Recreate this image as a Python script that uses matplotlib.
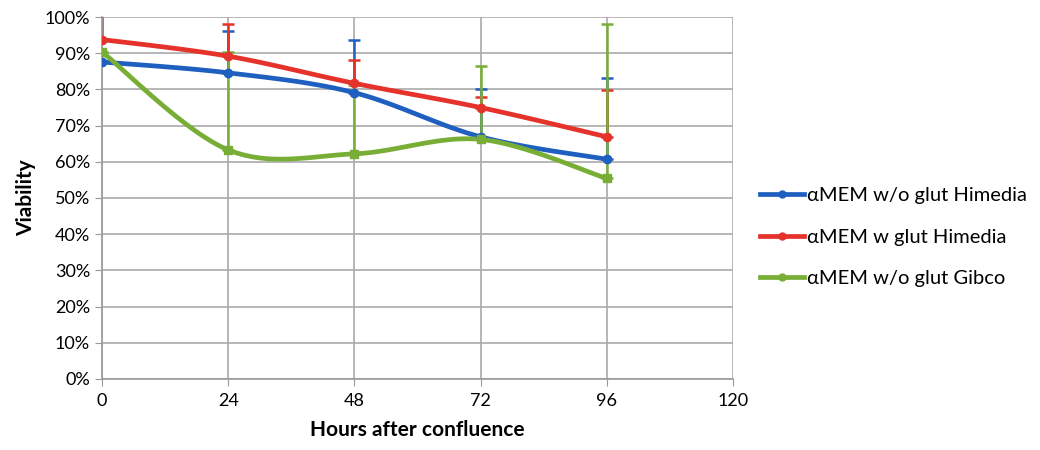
import numpy as np
import matplotlib
matplotlib.use("Agg")
import matplotlib.pyplot as plt
from matplotlib.ticker import PercentFormatter

plt.rcParams['font.family'] = ['Lato', 'DejaVu Sans']

hours = [0, 24, 48, 72, 96]
labels = ["\u03b1MEM w/o glut Himedia", "\u03b1MEM w glut Himedia", "\u03b1MEM w/o glut Gibco"]
blue_vals = [0.876, 0.846, 0.791, 0.669, 0.607]
red_vals = [0.938, 0.892, 0.817, 0.750, 0.669]
green_vals = [0.904, 0.633, 0.622, 0.662, 0.554]
blue_err = [0.0, 0.116, 0.147, 0.131, 0.225]
red_err = [0.10, 0.089, 0.064, 0.028, 0.129]
green_err = [0.0, 0.270, 0.190, 0.202, 0.428]
x_ticks = [0, 24, 48, 72, 96, 120]
y_ticks = [0, 0.1, 0.2, 0.3, 0.4, 0.5, 0.6, 0.7, 0.8, 0.9, 1.0]

colors = ["#1F5FBF", "#E5322B", "#78AE35"]
markers = ["o", "o", "s"]


def smooth(xs, ys, n=30):
    xs = np.asarray(xs, float)
    ys = np.asarray(ys, float)
    P = np.column_stack([xs, ys])
    out = [P[0]]
    for i in range(len(P) - 1):
        p0 = P[i - 1] if i > 0 else P[i]
        p1 = P[i]
        p2 = P[i + 1]
        p3 = P[i + 2] if i + 2 < len(P) else P[i + 1]
        c1 = p1 + (p2 - p0) / 6.0
        c2 = p2 - (p3 - p1) / 6.0
        t = np.linspace(0, 1, n)[1:, None]
        seg = ((1 - t) ** 3) * p1 + 3 * ((1 - t) ** 2) * t * c1 + 3 * (1 - t) * t ** 2 * c2 + t ** 3 * p2
        out.extend(seg)
    out = np.array(out)
    return out[:, 0], out[:, 1]


fig = plt.figure(figsize=(10.4, 4.5), dpi=100)
ax = fig.add_axes([0.098, 0.158, 0.607, 0.804])

series = [blue_vals, red_vals, green_vals]
errs = [blue_err, red_err, green_err]
handles = []
for vals, err, c, m, lab in zip(series, errs, colors, markers, labels):
    sx, sy = smooth(hours, vals)
    ax.plot(sx, sy, color=c, lw=3.4, zorder=3, solid_capstyle='round')
    ax.errorbar(hours, vals, yerr=[np.zeros(len(err)), err], fmt='none',
                ecolor=c, elinewidth=1.8, capsize=4, capthick=1.8, zorder=2)
    ax.plot(hours, vals, linestyle='none', marker=m, markersize=6,
            color=c, zorder=4)
    lh, = ax.plot([], [], color=c, lw=3.4, marker='o', markersize=5, label=lab)
    handles.append(lh)

ax.set_xlim(0, 120)
ax.set_ylim(0, 1.0)
ax.set_xticks(x_ticks)
ax.set_yticks(y_ticks)
ax.yaxis.set_major_formatter(PercentFormatter(1.0, decimals=0))
ax.grid(True, color="#AAAAAA", lw=1.2)
ax.set_axisbelow(True)
for s in ["top", "right"]:
    ax.spines[s].set_visible(False)
for s in ["left", "bottom"]:
    ax.spines[s].set_color("#999999")
    ax.spines[s].set_linewidth(1.2)
ax.tick_params(axis='x', length=5, color="#999999", labelsize=13, pad=5)
ax.tick_params(axis='y', length=5, color="#999999", labelsize=13)
ax.set_xlabel("Hours after confluence", fontsize=15, fontweight='bold', labelpad=8)
ax.set_ylabel("Viability", fontsize=15, fontweight='bold', labelpad=6)

fig.legend(handles=handles, loc='center left', bbox_to_anchor=(0.713, 0.473),
           frameon=False, fontsize=14.5, handlelength=2.2, handletextpad=0.15,
           labelspacing=1.2)

fig.savefig("out.png", dpi=100)
